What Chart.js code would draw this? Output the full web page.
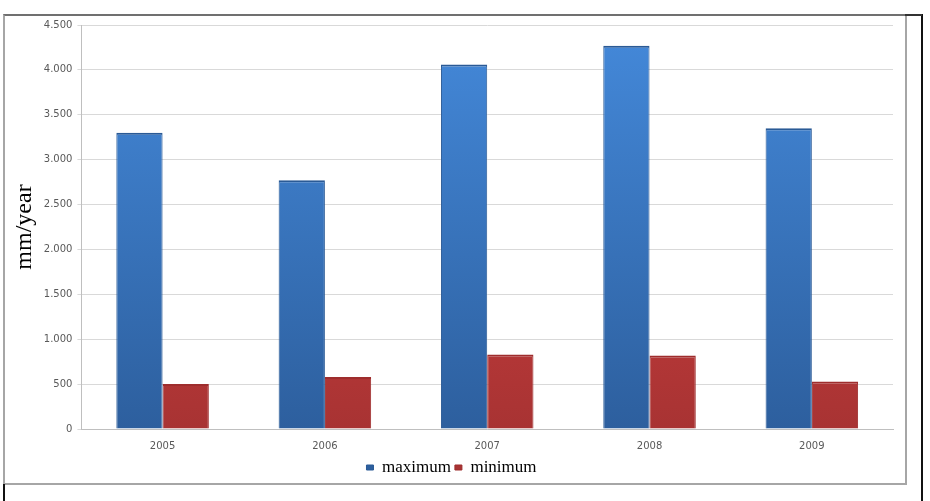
<!DOCTYPE html>
<html>
<head>
<meta charset="utf-8">
<script src="https://cdn.jsdelivr.net/npm/chart.js@4/dist/chart.umd.min.js"></script>
<style>
  html, body { margin: 0; padding: 0; background: #fff; }
  #wrap { position: relative; width: 930px; height: 501px; overflow: hidden; }
  #frame { position: absolute; left: 3px; top: 14px; width: 900px; height: 467px;
           border: 2px solid #a6a6a6; border-top-color: #707070; }
  #rline { position: absolute; left: 921px; top: 14px; width: 2px; height: 487px; background: #111; }
  #tline { position: absolute; left: 905px; top: 14px; width: 17px; height: 2px; background: #333; }
  #lline { position: absolute; left: 3px; top: 484px; width: 2px; height: 17px; background: #111; }
  canvas { position: absolute; left: 0; top: 0; }
</style>
</head>
<body>
<div id="wrap">
  <div id="frame"></div>
  <div id="rline"></div>
  <div id="tline"></div>
  <div id="lline"></div>
  <canvas id="chart" width="930" height="501"></canvas>
</div>
<script>
// chart data
const years = ['2005', '2006', '2007', '2008', '2009'];
const maximumValues = [3300, 2770, 4060, 4270, 3350];
const minimumValues = [500, 580, 830, 820, 530];

// vertical gradient helper for the 3d-ish office bars
function barGradient(top, bottom) {
  return function (context) {
    const chart = context.chart;
    const area = chart.chartArea;
    if (!area) return top;
    const g = chart.ctx.createLinearGradient(0, area.top, 0, area.bottom);
    g.addColorStop(0, top);
    g.addColorStop(1, bottom);
    return g;
  };
}

// dot as thousands separator, like the original
function fmt(v) {
  return String(v).replace(/\B(?=(\d{3})+(?!\d))/g, '.');
}

const ctx = document.getElementById('chart').getContext('2d');
new Chart(ctx, {
  type: 'bar',
  data: {
    labels: years,
    datasets: [
      {
        label: 'maximum',
        data: maximumValues,
        backgroundColor: barGradient('#4489da', '#2d5f9e'),
        borderColor: '#2a5a96',
        borderWidth: { left: 1, right: 1, top: 2, bottom: 0 },
        categoryPercentage: 0.57,
        barPercentage: 1.0,
      },
      {
        label: 'minimum',
        data: minimumValues,
        backgroundColor: barGradient('#de4444', '#a83333'),
        borderColor: '#9e2d2d',
        borderWidth: { left: 1, right: 1, top: 2, bottom: 0 },
        categoryPercentage: 0.57,
        barPercentage: 1.0,
      },
    ],
  },
  options: {
    responsive: false,
    animation: false,
    layout: {
      padding: { left: 10, right: 37, top: 25, bottom: 15 },
    },
    scales: {
      x: {
        grid: { display: false, drawTicks: true },
        border: { color: '#bfbfbf' },
        ticks: {
          color: '#595959',
          font: { family: 'DejaVu Sans', size: 10 },
          padding: 3,
        },
      },
      y: {
        min: 0,
        max: 4500,
        ticks: {
          stepSize: 500,
          color: '#595959',
          font: { family: 'DejaVu Sans', size: 10 },
          padding: 5,
          callback: (v) => fmt(v),
        },
        grid: { color: '#d9d9d9', tickLength: 4 },
        border: { color: '#bfbfbf' },
        title: {
          display: true,
          text: 'mm/year',
          color: '#000',
          font: { family: 'Liberation Serif', size: 24 },
          padding: { top: 0, bottom: 0 },
        },
      },
    },
    plugins: {
      legend: {
        position: 'bottom',
        labels: {
          boxWidth: 7,
          boxHeight: 5,
          color: '#000',
          font: { family: 'Liberation Serif', size: 17 },
          padding: 4,
        },
      },
      tooltip: { enabled: false },
    },
  },
});
</script>
</body>
</html>
